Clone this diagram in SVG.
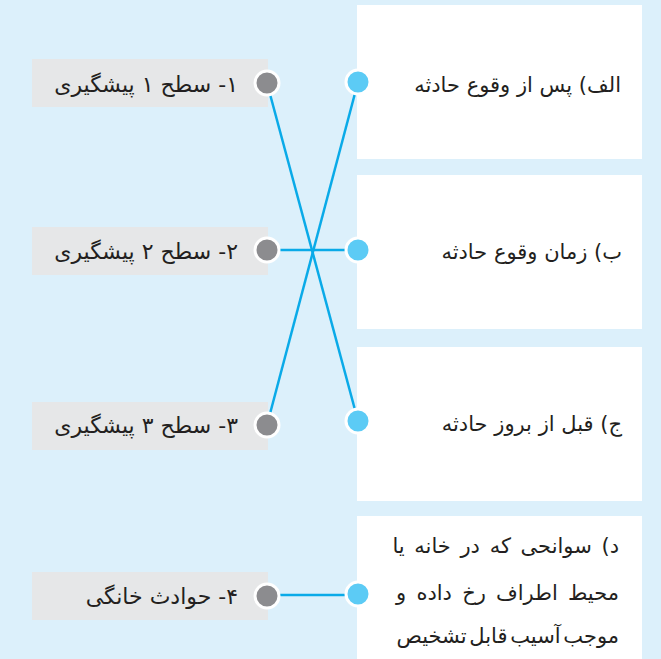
<svg xmlns="http://www.w3.org/2000/svg" width="661" height="659" viewBox="0 0 661 659">
<style>
.bg{fill:#dcf0fb}
.wbox{fill:#ffffff}
.gbox{fill:#e6e7e8}
.gdot{fill:#8c8c8f;stroke:#ffffff;stroke-width:3}
.bdot{fill:#5ccbf5;stroke:#ffffff;stroke-width:3}
.ln{stroke:#0aaae8;stroke-width:2.5;fill:none}
text{font-family:"DejaVu Sans",sans-serif;font-size:21px;fill:#231f20;direction:rtl;text-anchor:start}
.lt{font-size:22px}
</style>
<rect class="bg" x="0" y="0" width="661" height="659"/>
<g id="right-a"><rect class="wbox" x="357" y="5" width="285" height="154"/><text x="621" y="92">الف) پس از وقوع حادثه</text></g>
<g id="right-b"><rect class="wbox" x="357" y="175" width="285" height="154"/><text x="622" y="259">ب) زمان وقوع حادثه</text></g>
<g id="right-c"><rect class="wbox" x="357" y="347" width="285" height="154"/><text x="622" y="431">ج) قبل از بروز حادثه</text></g>
<g id="right-d"><rect class="wbox" x="357" y="516" width="285" height="150"/>
<text x="619" y="553" style="word-spacing:3px">د) سوانحی که در خانه یا</text>
<text x="619" y="600" style="word-spacing:3.5px">محیط اطراف رخ داده و</text>
<text x="619" y="643" style="word-spacing:-4px">موجب آسیب قابل تشخیص</text></g>
<g id="left-1"><rect class="gbox" x="32" y="59" width="236" height="48"/><text class="lt" x="238" y="92">۱- سطح ۱ پیشگیری</text></g>
<g id="left-2"><rect class="gbox" x="32" y="227" width="236" height="48"/><text class="lt" x="238" y="259">۲- سطح ۲ پیشگیری</text></g>
<g id="left-3"><rect class="gbox" x="32" y="402" width="236" height="48"/><text class="lt" x="238" y="433">۳- سطح ۳ پیشگیری</text></g>
<g id="left-4"><rect class="gbox" x="32" y="572" width="236" height="48"/><text class="lt" x="238" y="604">۴- حوادث خانگی</text></g>
<g id="connectors">
<line class="ln" x1="267" y1="83" x2="358" y2="421"/>
<line class="ln" x1="358" y1="82" x2="267" y2="425"/>
<line class="ln" x1="267" y1="250" x2="358" y2="250"/>
<line class="ln" x1="267" y1="595" x2="358" y2="595"/>
</g>
<g id="dots">
<circle class="gdot" cx="267" cy="83" r="12"/>
<circle class="gdot" cx="267" cy="250" r="12"/>
<circle class="gdot" cx="267" cy="425" r="12"/>
<circle class="gdot" cx="267" cy="596" r="12"/>
<circle class="bdot" cx="358" cy="82" r="12"/>
<circle class="bdot" cx="358" cy="250" r="12"/>
<circle class="bdot" cx="358" cy="421" r="12"/>
<circle class="bdot" cx="358" cy="594" r="12"/>
</g>
</svg>
